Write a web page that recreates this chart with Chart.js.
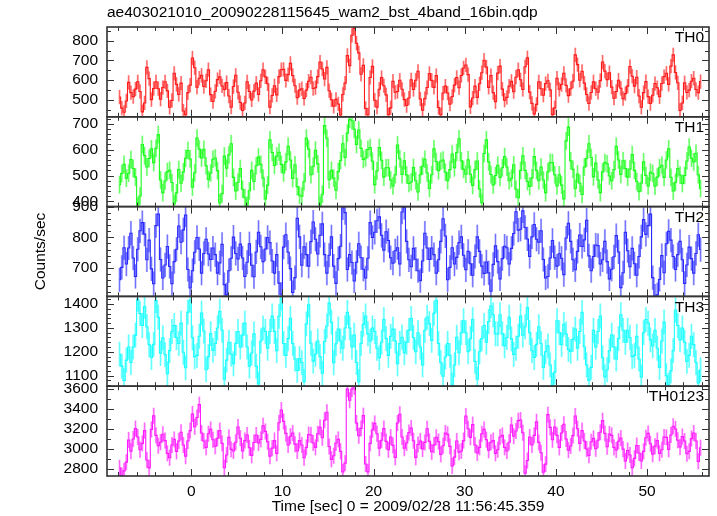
<!DOCTYPE html>
<html><head><meta charset="utf-8">
<script src="https://cdn.jsdelivr.net/npm/chart.js@4.4.1/dist/chart.umd.min.js"></script>
<style>html,body{margin:0;padding:0;background:#fff;}#wrap{width:717px;height:516px;position:relative;}canvas{display:block;}</style>
</head><body><div id="wrap"><canvas id="c" width="717" height="516"></canvas></div>
<script>
const titleText = "ae403021010_20090228115645_wam2_bst_4band_16bin.qdp";
const xTitle = "Time [sec] 0 = 2009/02/28 11:56:45.359";
const yTitle = "Counts/sec";
const panelNames = ["TH0", "TH1", "TH2", "TH3", "TH0123"];
const binStart = -7.875, binWidth = 0.25;

const th0 = [
515,459,438,495,589,537,517,555,592,543,440,485,665,608,502,558,592,557,504,563,592,546,463,498,635,579,528,585,444,425,537,575,
712,663,565,610,625,568,597,653,527,492,544,603,617,571,553,588,520,464,568,625,539,487,447,485,592,543,500,545,585,528,597,653,
617,582,464,523,572,526,618,653,655,599,628,685,624,572,512,550,557,508,550,595,615,558,562,618,692,657,606,665,547,501,468,503,
480,424,528,585,725,673,827,862,787,738,630,675,457,425,614,670,499,464,554,613,572,526,425,460,595,539,543,600,554,502,472,510,
602,553,600,645,505,448,507,563,634,599,564,623,462,425,535,570,535,479,518,575,614,562,624,662,677,628,465,510,570,513,582,638,
701,666,564,623,537,491,636,671,555,499,513,570,594,542,615,653,602,553,668,713,540,483,430,478,592,557,524,583,597,551,425,460,
610,554,578,635,574,522,557,595,728,679,600,645,585,528,482,538,592,557,539,598,692,646,603,638,565,509,543,600,559,507,532,570,
669,620,570,615,520,463,537,593,517,482,524,583,562,516,583,618,635,579,671,728,639,587,447,485,587,538,550,595,610,553,537,593];

const th1 = [
465,508,543,490,509,562,527,494,382,421,620,577,533,566,603,550,605,658,483,434,479,515,520,473,390,433,523,470,514,567,597,564,
455,511,645,602,568,601,538,485,510,563,568,519,394,430,575,528,580,623,493,440,474,527,447,414,385,441,520,477,538,571,543,490,
410,463,638,589,539,575,590,543,510,553,613,560,489,542,457,424,420,476,645,602,503,536,598,545,385,428,693,644,484,520,490,443,
515,558,623,570,664,717,712,679,620,676,605,562,568,601,608,555,465,518,608,559,494,530,530,483,460,503,618,565,504,557,502,469,
475,531,480,437,503,536,563,510,450,503,603,554,519,555,560,513,480,523,583,530,589,642,557,524,505,561,505,462,523,556,448,395,
585,638,553,504,464,500,540,493,530,573,533,480,489,542,447,414,520,576,520,477,458,491,573,520,480,533,483,434,514,550,550,503,
460,503,463,410,634,687,557,524,450,506,470,427,533,566,623,570,495,548,483,434,514,550,545,498,480,523,613,560,504,557,527,494,
525,581,520,477,438,471,553,500,460,513,508,459,494,530,540,493,560,603,493,440,474,527,502,469,500,556,610,567,553,586,503,450];

const th2 = [
660,701,766,712,765,814,732,671,761,822,849,811,726,791,696,647,839,877,727,666,709,770,704,647,720,761,838,784,825,874,694,633,
690,751,800,762,682,747,794,745,727,765,743,682,716,777,644,610,690,731,801,747,729,778,732,671,718,779,708,670,752,817,769,720,
762,800,783,722,682,743,649,612,768,809,751,697,618,667,863,802,708,769,743,705,786,851,794,745,807,845,743,682,741,802,705,648,
730,771,898,882,694,743,717,656,718,779,733,695,666,731,849,800,817,855,868,807,758,819,790,733,715,756,766,712,884,899,787,726,
703,764,728,690,657,722,814,765,727,765,743,682,726,787,862,805,660,701,766,712,734,783,802,741,693,754,713,675,737,802,754,705,
681,719,683,622,711,772,720,663,730,771,766,712,764,813,885,824,827,888,833,795,737,802,843,794,784,822,727,666,671,732,790,733,
705,746,731,677,798,847,787,726,693,754,808,770,792,857,739,690,737,775,773,712,726,787,720,663,695,736,806,752,634,683,817,756,
703,764,713,675,737,802,859,810,839,877,667,606,610,661,740,683,779,820,791,737,694,743,787,726,648,709,768,730,682,747,809,760];

const th3 = [
1190,1140,1080,1165,1220,1155,1220,1270,1420,1360,1310,1390,1305,1230,1176,1231,1415,1345,1194,1259,1188,1108,1205,1285,1310,1260,1235,1320,1198,1133,1366,1416,
1259,1179,1185,1265,1362,1287,1125,1180,1276,1206,1235,1300,1370,1290,1085,1165,1240,1190,1150,1235,1285,1220,1270,1320,1220,1140,1195,1275,1140,1065,1245,1300,
1285,1215,1285,1350,1285,1205,1349,1425,1235,1185,1255,1340,1235,1170,1122,1172,1155,1075,1317,1397,1236,1161,1190,1245,1180,1110,1243,1308,1404,1324,1154,1234,
1295,1245,1215,1300,1365,1300,1220,1270,1155,1075,1235,1315,1350,1275,1245,1300,1285,1215,1175,1240,1335,1255,1185,1265,1295,1245,1150,1235,1261,1196,1240,1290,
1340,1260,1200,1280,1220,1145,1290,1345,1318,1248,1361,1416,1235,1155,1098,1178,1235,1185,1060,1145,1261,1196,1280,1330,1280,1200,1255,1335,1160,1085,1200,1255,
1310,1240,1327,1392,1355,1275,1275,1355,1275,1225,1260,1345,1254,1189,1215,1265,1350,1270,1305,1385,1280,1205,1176,1231,1305,1235,1135,1200,1225,1145,1060,1115,
1330,1280,1230,1315,1275,1210,1202,1252,1295,1215,1285,1365,1220,1145,1080,1135,1290,1220,1285,1350,1175,1095,1125,1205,1270,1220,1170,1255,1355,1290,1240,1290,
1260,1180,1185,1265,1170,1095,1280,1335,1320,1250,1225,1290,1215,1135,1245,1325,1100,1060,1120,1205,1375,1310,1250,1300,1240,1160,1185,1265,1230,1155,1070,1125];

const th0123 = [
2807,2730,2776,2864,3086,2974,3096,3200,3116,2988,3052,3180,2886,2806,3192,3328,3132,3028,3064,3144,3080,2952,2908,3036,3092,2972,3076,3164,3036,2924,3076,3180,
3346,3218,3312,3440,3156,3076,3012,3148,3192,3088,3024,3104,3180,3052,2808,2936,3112,2992,2976,3064,3216,3104,2976,3080,3136,3008,2932,3060,3136,3056,3092,3228,
3172,3068,2924,3004,3080,2952,3258,3386,3272,3152,3036,3124,3156,3044,2976,3080,3036,2908,3012,3140,3136,3056,3012,3148,3212,3108,3284,3364,3020,2892,2928,3056,
3092,2972,2766,2854,3596,3484,3596,3620,3256,3128,3202,3330,2846,2766,3052,3188,3252,3148,3004,3084,3200,3072,2988,3116,3032,2912,3256,3344,3116,3004,3056,3160,
3206,3078,2912,3040,3076,2996,3062,3198,3072,2968,3034,3114,3070,2942,3028,3156,3142,3022,2826,2914,3076,2964,2976,3080,3326,3198,3112,3240,3036,2956,3012,3148,
3192,3088,2984,3064,3080,2952,2988,3116,3132,3012,2976,3064,3236,3124,3176,3280,3286,3158,2752,2880,3116,3036,3132,3268,3062,2958,2764,2844,3340,3212,3088,3216,
3132,3012,3156,3244,3096,2984,3026,3130,3326,3198,3052,3180,3076,2996,2932,3068,3102,2998,3084,3164,3280,3152,3018,3146,3132,3012,2986,3074,3106,2994,2876,2980,
2936,2808,2902,3030,2956,2876,2972,3108,3152,3048,2944,3024,3080,2952,2988,3116,3112,2992,3136,3224,3196,3084,3016,3120,3076,2948,2972,3100,3156,3076,2872,3008];

const series = [th0, th1, th2, th3, th0123];
const errHalf = [36, 34, 40, 52, 80];

const xRange = [-9.25, 56.8];
const xMajorTicks = [0, 10, 20, 30, 40, 50];
const xMinorStep = 2;
const yRanges = [[415, 869], [380, 727], [605, 902], [1056, 1432], [2725, 3625]];
const yTickLabels = [[500, 600, 700, 800], [400, 500, 600, 700], [700, 800, 900], [1100, 1200, 1300, 1400], [2800, 3000, 3200, 3400, 3600]];
const yMinorStep = [50, 20, 20, 20, 100];

const lineColors = ['#ff1a1a', '#1aff1a', '#2a2aff', '#1affff', '#ff1aff'];
const barColors = ['rgba(255,70,70,0.5)', 'rgba(70,255,70,0.5)', 'rgba(90,90,255,0.5)', 'rgba(70,255,255,0.55)', 'rgba(255,70,255,0.5)'];

const times = th0.map((_, i) => binStart + binWidth * i);
const FONT = {family: "'Liberation Sans', Arial, Helvetica, sans-serif", size: 15.5};
const FONTSTR = "15.5px 'Liberation Sans', Arial, Helvetica, sans-serif";

const datasets = series.map((vals, k) => ({
  label: panelNames[k],
  data: vals.map((v, i) => ({x: times[i], y: v})),
  yAxisID: 'y' + k,
  borderColor: lineColors[k],
  borderWidth: 1.1,
  pointRadius: 0,
  stepped: 'middle',
  fill: false
}));

const scales = {
  x: {
    type: 'linear', position: 'bottom', min: xRange[0], max: xRange[1],
    grid: {display: false, drawTicks: false}, border: {display: false},
    ticks: {padding: 6, font: FONT, color: '#000', maxRotation: 0, autoSkip: false, callback: v => String(v)},
    afterBuildTicks: s => { s.ticks = xMajorTicks.map(v => ({value: v})); },
    afterFit: s => { s.height = 40; },
    title: {display: true, text: xTitle, font: FONT, color: '#000', padding: {top: 0, bottom: 0}}
  }
};
for (let k = 4; k >= 0; k--) {
  scales['y' + k] = {
    type: 'linear', position: 'left', stack: 'panels', stackWeight: 1,
    min: yRanges[k][0], max: yRanges[k][1],
    grid: {display: false, drawTicks: false}, border: {display: false},
    ticks: {padding: 9, font: FONT, color: '#000', autoSkip: false, callback: v => String(v)},
    afterBuildTicks: s => { s.ticks = yTickLabels[k].map(v => ({value: v})); },
    afterFit: s => { s.width = 107; }
  };
}

const qdpPlugin = {
  id: 'qdp',
  beforeDatasetsDraw(chart) {
    const ctx = chart.ctx, xs = chart.scales.x;
    series.forEach((vals, k) => {
      const ys = chart.scales['y' + k];
      ctx.save();
      ctx.beginPath();
      ctx.rect(xs.left, ys.top, xs.right - xs.left, ys.bottom - ys.top);
      ctx.clip();
      ctx.beginPath();
      vals.forEach((v, i) => {
        const x = xs.getPixelForValue(times[i]);
        ctx.moveTo(x, ys.getPixelForValue(v - errHalf[k]));
        ctx.lineTo(x, ys.getPixelForValue(v + errHalf[k]));
      });
      ctx.strokeStyle = barColors[k];
      ctx.lineWidth = 2;
      ctx.stroke();
      ctx.strokeStyle = lineColors[k];
      ctx.globalAlpha = 0.6;
      ctx.lineWidth = 0.8;
      ctx.stroke();
      ctx.restore();
    });
  },
  afterDraw(chart) {
    const ctx = chart.ctx, xs = chart.scales.x;
    ctx.save();
    ctx.strokeStyle = '#333';
    ctx.lineWidth = 1;
    for (let k = 0; k < 5; k++) {
      const ys = chart.scales['y' + k];
      const top = ys.top, bot = ys.bottom, L = xs.left, R = xs.right;
      ctx.beginPath();
      for (let v = Math.ceil(xRange[0] / xMinorStep) * xMinorStep; v <= xRange[1]; v += xMinorStep) {
        const x = Math.round(xs.getPixelForValue(v)) + 0.5;
        const len = (v % 10 === 0) ? 7 : 4;
        ctx.moveTo(x, top); ctx.lineTo(x, top + len);
        ctx.moveTo(x, bot); ctx.lineTo(x, bot - len);
      }
      const st = yMinorStep[k];
      for (let v = Math.ceil(yRanges[k][0] / st) * st; v <= yRanges[k][1]; v += st) {
        const y = Math.round(ys.getPixelForValue(v)) + 0.5;
        const len = yTickLabels[k].includes(v) ? 7 : 4;
        ctx.moveTo(L, y); ctx.lineTo(L + len, y);
        ctx.moveTo(R, y); ctx.lineTo(R - len, y);
      }
      ctx.stroke();
    }
    ctx.lineWidth = 1.6;
    for (let k = 0; k < 5; k++) {
      const ys = chart.scales['y' + k];
      ctx.strokeRect(xs.left, ys.top, xs.right - xs.left, ys.bottom - ys.top);
    }
    ctx.fillStyle = '#000';
    ctx.font = FONTSTR;
    ctx.textBaseline = 'middle';
    ctx.textAlign = 'left';
    ctx.fillText(titleText, xs.left, 13);
    ctx.textAlign = 'right';
    for (let k = 0; k < 5; k++) {
      const ys = chart.scales['y' + k];
      ctx.fillText(panelNames[k], xs.right - 5, ys.top + 11);
    }
    ctx.translate(41, (chart.chartArea.top + chart.chartArea.bottom) / 2);
    ctx.rotate(-Math.PI / 2);
    ctx.textAlign = 'center';
    ctx.fillText(yTitle, 0, 0);
    ctx.restore();
  }
};

new Chart(document.getElementById('c'), {
  type: 'line',
  data: {datasets},
  options: {
    responsive: false, animation: false, devicePixelRatio: 1,
    layout: {padding: {top: 27, right: 8, left: 0, bottom: 0}},
    plugins: {legend: {display: false}, tooltip: {enabled: false}, title: {display: false}},
    scales
  },
  plugins: [qdpPlugin]
});
</script></body></html>
